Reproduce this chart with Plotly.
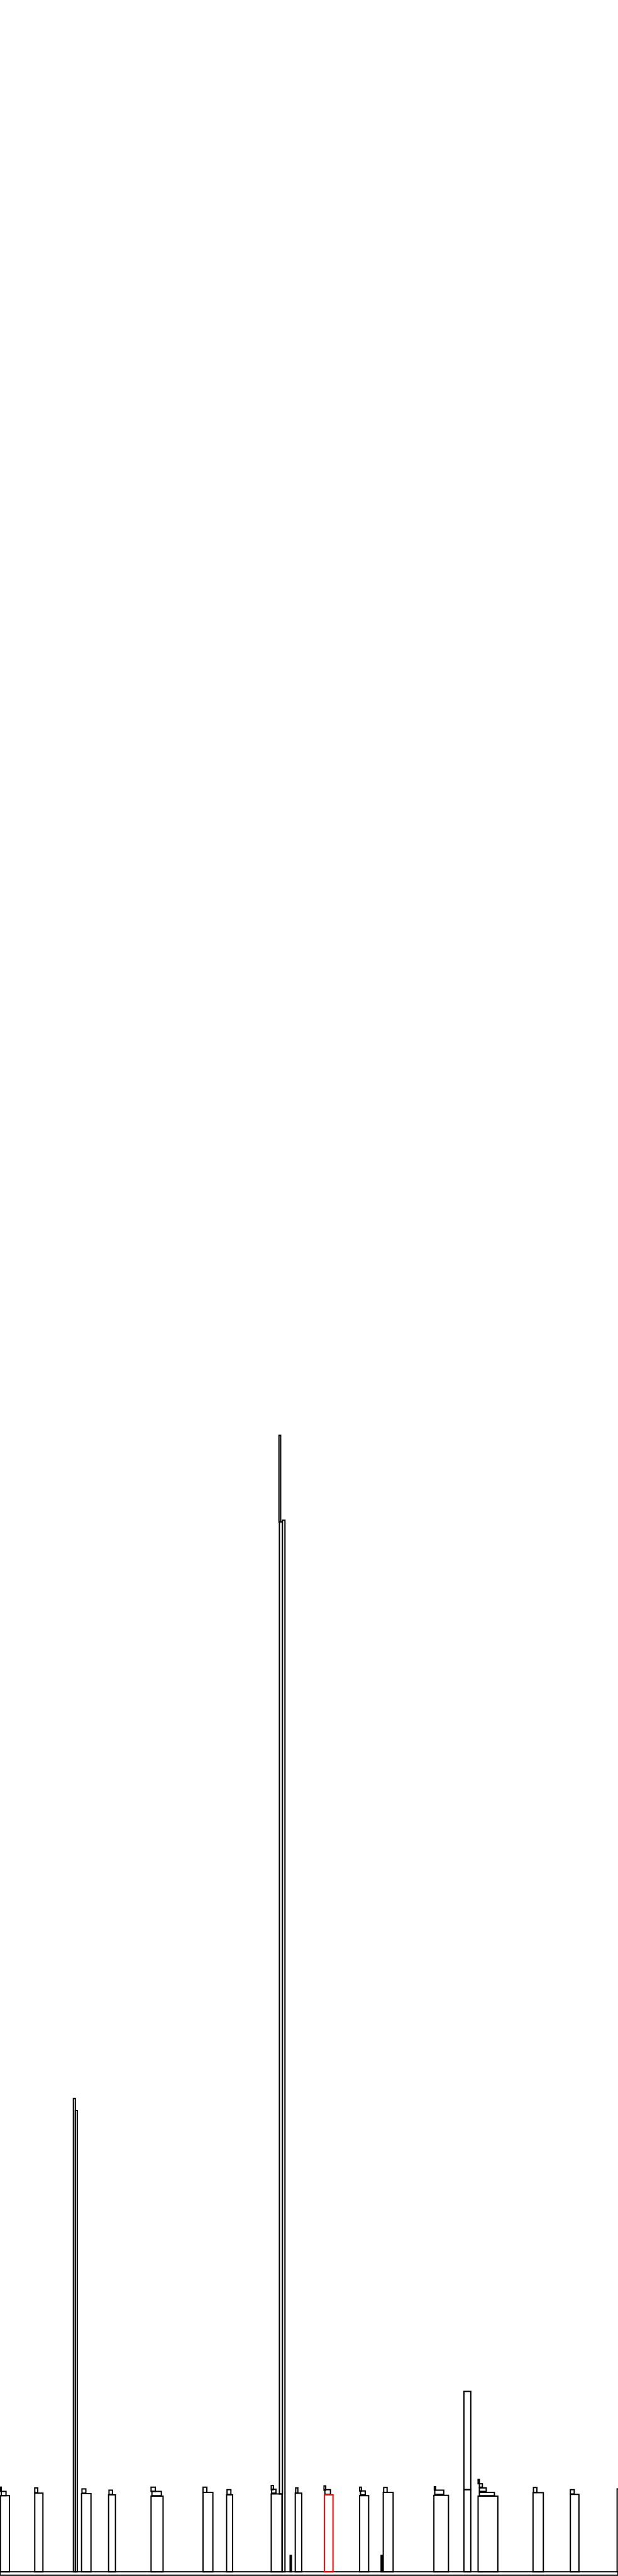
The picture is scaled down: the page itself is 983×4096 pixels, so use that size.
import plotly.graph_objects as go

# Main (ground-level) blocks: left edge, right edge, height
main_left   = [1, 81, 171, 175.5, 190, 253, 352, 473, 528, 632, 658, 676, 688, 756, 838, 888, 893, 1011, 1081, 1114, 1242, 1329, 1438]
main_right  = [22, 100, 175.5, 180, 212, 269, 380, 496, 542, 657, 664, 679, 703, 776, 859, 891, 916, 1045, 1097, 1160, 1266, 1349, 1462]
main_height = [177, 183, 1102, 1074, 182, 179, 176, 185, 179, 181, 2449, 38, 183, 179, 177, 38, 185, 178, 191, 176, 184, 180, 193]
main_color  = ["black"] * 13 + ["red"] + ["black"] * 9

# Upper (stacked) blocks: left edge, right edge, base, top
upper_left  = [3, 0.5, 81, 191, 254, 354, 352, 473, 529, 633, 632, 651, 650, 689, 757, 755, 840, 838, 894, 1013, 1012, 1081, 1117, 1117, 1117, 1114, 1243, 1329]
upper_right = [14, 3, 88, 200, 262, 376, 362, 482, 538, 643, 637, 658, 654, 694, 770, 759, 851, 842, 902, 1034, 1015, 1097, 1152, 1133, 1124, 1117, 1251, 1338]
upper_base  = [177, 187, 184, 183, 180, 177, 187, 185, 180, 183, 191, 181, 2445, 183, 180, 190, 179, 188, 185, 180, 190, 191, 177, 187, 197, 205, 185, 181]
upper_top   = [187, 197, 195, 193, 190, 187, 197, 197, 191, 192, 201, 2445, 2647, 195, 191, 200, 188, 197, 196, 190, 198, 420, 185, 195, 205, 215, 196, 191]

# Root strip spanning everything
root_left, root_right, root_base, root_top = 0, 1440, -8, 0

fig = go.Figure()

def add_blocks(lefts, rights, bases, tops, colors):
    fig.add_trace(go.Bar(
        x=[(l + r) / 2 for l, r in zip(lefts, rights)],
        width=[r - l for l, r in zip(lefts, rights)],
        base=bases,
        y=[t - b for b, t in zip(bases, tops)],
        marker=dict(color="rgba(0,0,0,0)", line=dict(color=colors, width=2)),
        showlegend=False,
        hoverinfo="skip",
    ))

add_blocks([root_left], [root_right], [root_base], [root_top], ["black"])
blk = [i for i, c in enumerate(main_color) if c == "black"]
red = [i for i, c in enumerate(main_color) if c != "black"]
add_blocks([main_left[i] for i in blk], [main_right[i] for i in blk],
           [0] * len(blk), [main_height[i] for i in blk], ["black"] * len(blk))
add_blocks(upper_left, upper_right, upper_base, upper_top, ["black"] * len(upper_left))
add_blocks([main_left[i] for i in red], [main_right[i] for i in red],
           [0] * len(red), [main_height[i] for i in red], [main_color[i] for i in red])

fig.update_layout(
    width=983, height=4096,
    margin=dict(l=0, r=0, t=0, b=0),
    barmode="overlay",
    paper_bgcolor="white", plot_bgcolor="white",
    xaxis=dict(range=[0, 1440], visible=False, fixedrange=True),
    yaxis=dict(range=[-10, 5990], visible=False, fixedrange=True),
)
fig.write_html("out.html",
               config={"displayModeBar": False, "staticPlot": True},
               post_script="document.body.style.margin='0';document.body.style.overflow='hidden';")
